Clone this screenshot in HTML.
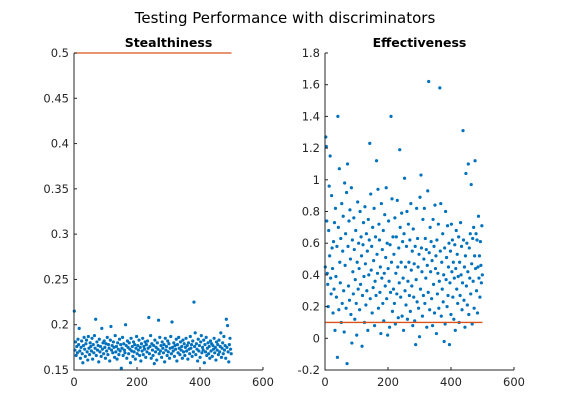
<!DOCTYPE html>
<html><head><meta charset="utf-8"><style>
body{margin:0;background:#fff;font-family:"Liberation Sans","DejaVu Sans",sans-serif}
svg text{font-family:"DejaVu Sans","Liberation Sans",sans-serif}
</style></head><body>
<svg id="c" width="570" height="413" xmlns="http://www.w3.org/2000/svg">
<rect width="570" height="413" fill="#fff"/>
<text x="285" y="23" font-size="15" text-anchor="middle" fill="#000">Testing Performance with discriminators</text>
</svg>
<script>
const stealthY=[0.215,0.172,0.181,0.166,0.176,0.169,0.184,0.178,0.196,0.171,0.163,0.175,0.182,0.168,0.158,0.177,0.186,0.173,0.165,0.179,0.183,0.170,0.161,0.187,0.174,0.167,0.180,0.176,0.171,0.185,0.162,0.178,0.169,0.188,0.174,0.206,0.166,0.181,0.172,0.177,0.159,0.184,0.170,0.176,0.165,0.196,0.173,0.180,0.168,0.182,0.175,0.163,0.179,0.171,0.186,0.167,0.178,0.174,0.160,0.183,0.198,0.172,0.177,0.169,0.181,0.175,0.164,0.188,0.170,0.176,0.162,0.180,0.173,0.167,0.184,0.171,0.178,0.152,0.174,0.186,0.166,0.179,0.172,0.169,0.200,0.177,0.163,0.182,0.175,0.168,0.180,0.173,0.158,0.185,0.171,0.176,0.165,0.181,0.170,0.178,0.162,0.174,0.187,0.168,0.177,0.172,0.183,0.166,0.175,0.160,0.179,0.171,0.185,0.167,0.176,0.173,0.181,0.164,0.178,0.170,0.182,0.174,0.208,0.168,0.176,0.188,0.163,0.179,0.172,0.166,0.177,0.157,0.183,0.170,0.175,0.161,0.180,0.173,0.205,0.168,0.186,0.171,0.177,0.164,0.181,0.174,0.169,0.178,0.159,0.185,0.172,0.176,0.166,0.182,0.170,0.179,0.163,0.174,0.187,0.168,0.203,0.175,0.171,0.180,0.165,0.177,0.173,0.184,0.160,0.178,0.169,0.186,0.174,0.167,0.181,0.172,0.176,0.163,0.183,0.170,0.179,0.166,0.175,0.185,0.171,0.177,0.162,0.180,0.173,0.168,0.187,0.174,0.178,0.165,0.182,0.170,0.225,0.176,0.191,0.167,0.179,0.173,0.160,0.184,0.171,0.177,0.164,0.181,0.188,0.169,0.175,0.172,0.183,0.158,0.178,0.170,0.186,0.166,0.174,0.180,0.168,0.176,0.163,0.182,0.171,0.179,0.165,0.177,0.173,0.185,0.169,0.175,0.161,0.181,0.172,0.178,0.167,0.183,0.170,0.176,0.191,0.164,0.174,0.180,0.168,0.187,0.172,0.177,0.163,0.206,0.175,0.199,0.170,0.159,0.178,0.185,0.173,0.168];
const effectY=[0.45,1.27,1.21,0.74,0.41,0.34,0.20,0.68,0.96,0.52,1.15,0.38,0.28,0.90,0.57,0.44,0.16,0.61,0.31,0.73,0.05,0.82,0.39,0.26,0.58,-0.12,1.40,0.70,0.18,1.07,0.48,0.35,0.63,0.10,0.85,0.22,0.55,0.77,0.30,0.04,0.98,0.46,0.66,0.19,0.92,-0.16,1.10,0.58,0.33,0.74,0.24,0.81,0.50,0.15,0.95,-0.03,0.62,0.42,0.28,0.76,0.56,0.12,0.37,0.68,0.22,0.02,0.48,0.86,0.31,0.60,0.44,0.18,0.80,0.34,0.64,0.52,-0.05,0.27,0.59,0.73,0.39,0.10,0.83,0.47,0.21,0.66,0.30,0.55,0.05,0.75,0.40,0.62,1.23,0.25,0.91,0.43,0.58,0.16,0.70,0.32,0.49,0.82,0.08,0.36,0.64,0.27,1.12,0.53,0.41,0.94,0.19,0.72,0.62,0.29,0.45,0.03,0.85,0.38,0.56,0.22,0.68,0.11,0.41,0.78,0.33,0.51,0.95,0.25,0.60,0.02,0.44,0.74,0.36,0.07,0.59,0.29,1.40,0.48,0.88,0.17,0.64,0.31,0.53,0.22,0.76,0.09,0.41,0.64,0.28,0.87,0.45,0.13,0.57,0.35,1.19,0.70,0.26,0.48,0.79,0.14,0.61,0.38,0.05,0.66,1.01,0.30,0.45,0.21,0.58,0.80,0.12,0.36,0.72,0.48,0.27,0.62,0.17,0.85,0.43,0.33,0.55,0.08,0.69,0.26,0.47,0.11,0.58,-0.04,0.37,0.82,0.23,0.63,0.45,0.19,0.53,0.01,0.89,0.31,1.03,0.57,0.42,0.14,0.75,0.27,0.50,0.82,0.22,0.63,0.38,0.56,0.07,0.46,0.93,0.29,1.62,0.54,0.18,0.70,0.42,0.61,0.25,0.49,0.08,0.75,0.34,0.58,0.16,0.84,0.44,0.52,0.03,0.62,0.28,0.41,0.72,0.19,0.36,1.58,0.55,0.85,0.14,0.48,0.31,0.66,0.23,0.40,-0.02,0.57,0.09,0.80,0.37,0.51,0.20,0.71,0.27,0.45,0.60,-0.04,0.35,0.55,0.15,0.72,0.42,0.62,0.26,0.48,0.12,0.38,0.59,0.05,0.44,0.68,0.31,0.53,0.22,0.39,0.64,0.10,0.48,0.27,0.73,0.40,0.58,0.18,0.35,1.31,0.62,0.24,0.45,0.07,0.52,1.04,0.33,0.60,0.21,0.42,1.10,0.15,0.57,0.38,0.66,0.28,0.97,0.47,0.09,0.63,0.36,0.70,0.19,0.52,1.12,0.44,0.66,0.30,0.62,0.16,0.45,0.77,0.38,0.52,0.26,0.61,0.46,0.35,0.71,0.40];
const xTicks=[0,200,400,600];
const stealthTicks=[0.15,0.2,0.25,0.3,0.35,0.4,0.45,0.5];
const effectTicks=[-0.2,0,0.2,0.4,0.6,0.8,1,1.2,1.4,1.6,1.8];
const stealthRef=[0.5];
const effectRef=[0.1];

const NS='http://www.w3.org/2000/svg';
const svg=document.getElementById('c');
function mk(tag,attrs,parent){const e=document.createElementNS(NS,tag);for(const k in attrs)e.setAttribute(k,attrs[k]);(parent||svg).appendChild(e);return e;}

function panel(cfg){
  const {x0,x1,y0,y1,ymin,ymax,ticks,data,ref,title,name}=cfg;
  const g=mk('g',{});
  
  
  const sx=v=>x0+(v-0)/(600-0)*(x1-x0);
  const sy=v=>y1-(v-ymin)/(ymax-ymin)*(y1-y0);
  const step=500/data.length;
  data.forEach((v,i)=>{
    const c=mk('circle',{cx:sx(i*step+1).toFixed(2),cy:sy(v).toFixed(2),r:1.6,fill:'#0072BD'},g);
    
    
  });
  ref.forEach(r=>{
    const l=mk('line',{x1:sx(0),x2:sx(500),y1:sy(r),y2:sy(r),stroke:'#D95319','stroke-width':1.3},g);
    
    
  });
  const ax=mk('path',{d:`M${x0},${y0}V${y1}H${x1}`,stroke:'#262626','stroke-width':1,fill:'none'},g);
  
  
  xTicks.forEach(t=>{
    mk('line',{x1:sx(t),x2:sx(t),y1:y1,y2:y1-3,stroke:'#262626'},g);
    const tx=mk('text',{x:sx(t),y:y1+16,'font-size':11.5,'text-anchor':'middle',fill:'#262626'},g);
    tx.textContent=t;
    
    
  });
  ticks.forEach(t=>{
    mk('line',{x1:x0,x2:x0+3,y1:sy(t),y2:sy(t),stroke:'#262626'},g);
    const tx=mk('text',{x:x0-5,y:sy(t)+4,'font-size':11.5,'text-anchor':'end',fill:'#262626'},g);
    tx.textContent=String(t);
    
    
  });
  const tt=mk('text',{x:(x0+x1)/2,y:y0-6,'font-size':12.5,'font-weight':'bold','text-anchor':'middle',fill:'#000'},g);
  tt.textContent=title;
  
  
}
panel({x0:74,x1:263,y0:53,y1:370,ymin:0.15,ymax:0.5,ticks:stealthTicks,data:stealthY,ref:stealthRef,title:'Stealthiness',name:'stealthiness'});
panel({x0:325,x1:514,y0:53,y1:370,ymin:-0.2,ymax:1.8,ticks:effectTicks,data:effectY,ref:effectRef,title:'Effectiveness',name:'effectiveness'});
</script>
</body></html>
